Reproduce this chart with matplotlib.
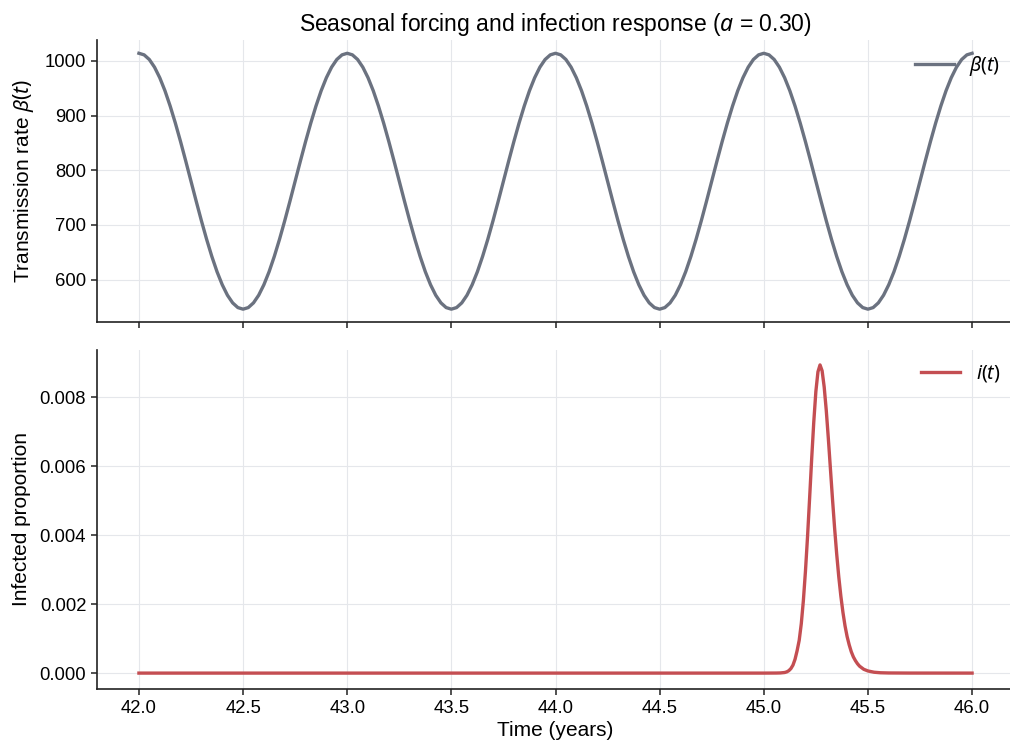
import numpy as np
import matplotlib
matplotlib.use("Agg")
import matplotlib.pyplot as plt

plt.rcParams['font.family'] = ['Liberation Sans', 'DejaVu Sans']
plt.rcParams['mathtext.fontset'] = 'custom'
plt.rcParams['mathtext.it'] = 'Noto Sans:italic'
plt.rcParams['mathtext.rm'] = 'Noto Sans'
plt.rcParams['mathtext.bf'] = 'Noto Sans:bold'

# --- data ---
amplitude = 0.30
# one seasonal cycle of beta(t), sampled every 0.025 year starting at an integer year
beta_cycle = [1014.0, 1011.1, 1002.6, 988.5, 969.3, 945.5, 917.5, 886.2, 852.3, 816.6,
              780.0, 743.4, 707.7, 673.8, 642.5, 614.5, 590.7, 571.5, 557.5, 548.9,
              546.0, 548.9, 557.5, 571.5, 590.7, 614.5, 642.5, 673.8, 707.7, 743.4,
              780.0, 816.6, 852.3, 886.2, 917.5, 945.5, 969.3, 988.5, 1002.6, 1011.1]
years_start, years_end = 42.0, 46.0
n_cycles = 4
beta_t = np.linspace(years_start, years_end, 40 * n_cycles + 1)
beta_vals = np.array(beta_cycle * n_cycles + [beta_cycle[0]])

# infected proportion i(t)
inf_t = [42.0, 43.0, 44.0, 45.0, 45.06, 45.08, 45.10, 45.11, 45.12, 45.13, 45.14, 45.15,
         45.16, 45.17, 45.18, 45.19, 45.20, 45.21, 45.22, 45.23, 45.24, 45.25, 45.26,
         45.27, 45.28, 45.29, 45.30, 45.31, 45.32, 45.33, 45.34, 45.35, 45.36, 45.37,
         45.38, 45.39, 45.40, 45.41, 45.42, 45.43, 45.44, 45.45, 45.46, 45.48, 45.50,
         45.53, 45.56, 45.60, 45.70, 46.0]
inf_vals = [0.0, 0.0, 0.0, 0.0, 0.000002, 0.000005, 0.000017, 0.000035, 0.00007, 0.00013,
            0.00023, 0.00040, 0.00065, 0.00095, 0.00143, 0.00210, 0.00295, 0.00395,
            0.00507, 0.00622, 0.00728, 0.00816, 0.00873, 0.00893, 0.00876, 0.00829,
            0.00761, 0.00679, 0.00591, 0.00503, 0.00420, 0.00345, 0.00279, 0.00223,
            0.00176, 0.00137, 0.00106, 0.00082, 0.00062, 0.00047, 0.00036, 0.00027,
            0.00020, 0.00011, 0.000062, 0.000025, 0.00001, 0.000004, 0.000001, 0.0]

xticks = [42.0, 42.5, 43.0, 43.5, 44.0, 44.5, 45.0, 45.5, 46.0]
beta_yticks = [600, 700, 800, 900, 1000]
inf_yticks = [0.000, 0.002, 0.004, 0.006, 0.008]

grey = '#6b7280'
red = '#c44e52'
grid_c = '#e5e7eb'

fig = plt.figure(figsize=(10.1, 7.47), dpi=100)
ax1 = fig.add_axes([0.0963, 0.569, 0.9074, 0.3768])
ax2 = fig.add_axes([0.0963, 0.0783, 0.9074, 0.4538], sharex=ax1)

ax1.plot(beta_t, beta_vals, color=grey, lw=2.4, label=r'$\beta(t)$')
ax2.plot(inf_t, inf_vals, color=red, lw=2.4, label=r'$i(t)$')

for ax in (ax1, ax2):
    ax.spines['top'].set_visible(False)
    ax.spines['right'].set_visible(False)
    for s in ('left', 'bottom'):
        ax.spines[s].set_linewidth(1.2)
        ax.spines[s].set_color('#222222')
    ax.grid(True, color=grid_c, lw=0.8)
    ax.set_axisbelow(True)
    ax.tick_params(labelsize=13.3, length=4.5, width=1.1, color='#222222')
    ax.legend(loc='upper right', frameon=False, fontsize=14, handlelength=2.0,
              borderaxespad=0.3)

ax1.set_xticks(xticks)
ax1.set_xlim(41.8, 46.2)
ax1.set_yticks(beta_yticks)
ax1.tick_params(labelbottom=False)
ax2.set_yticks(inf_yticks)
ax2.set_yticklabels([f'{v:.3f}' for v in inf_yticks])
ax2.set_xticklabels([f'{v:.1f}' for v in xticks])

ax1.set_ylabel(r'Transmission rate $\beta(t)$', fontsize=15, labelpad=6)
ax2.set_ylabel('Infected proportion', fontsize=15, labelpad=6)
ax2.set_xlabel('Time (years)', fontsize=15, labelpad=3)
ax1.set_title(r'Seasonal forcing and infection response ($a$ = 0.30)', fontsize=16.5, pad=7)

fig.savefig('out.png', dpi=100)
